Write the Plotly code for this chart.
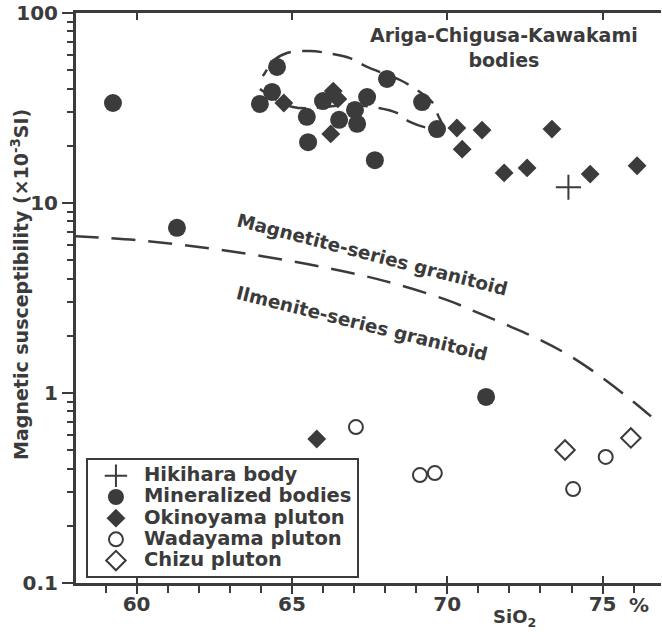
import plotly.graph_objects as go

# ---------------- data ----------------
hik_x = [73.9]
hik_y = [12.1]

min_x = [59.24, 61.3, 64.52, 64.36, 63.97, 65.48, 65.52, 66.0, 67.03, 67.1, 66.52,
         67.42, 68.06, 69.19, 69.67, 67.67, 71.25]
min_y = [33.6, 7.4, 52.0, 38.4, 33.2, 28.4, 20.9, 34.4, 30.9, 26.1, 27.4,
         36.1, 45.0, 34.0, 24.5, 16.8, 0.953]

oki_x = [64.74, 66.33, 66.48, 66.25, 70.31, 70.48, 71.12, 73.37, 71.83, 72.57, 74.6, 76.11, 65.8]
oki_y = [33.6, 38.8, 35.3, 23.1, 24.8, 19.2, 24.2, 24.5, 14.4, 15.3, 14.2, 15.7, 0.573]

wad_x = [67.06, 69.12, 69.6, 74.05, 75.1]
wad_y = [0.662, 0.370, 0.379, 0.312, 0.461]

chi_x = [73.79, 75.91]
chi_y = [0.501, 0.580]

# magnetite / ilmenite series boundary
bnd_x = [58.0, 60, 62, 64, 66, 68, 70, 71, 72, 73, 74, 75, 76, 76.7]
bnd_y = [6.7, 6.38, 5.87, 5.26, 4.60, 3.88, 3.08, 2.64, 2.25, 1.90, 1.55, 1.20, 0.897, 0.72]

# Ariga-Chigusa-Kawakami outline
acb_x = [63.97, 65.03, 66.87, 67.61, 68.38, 68.8, 69.44, 69.83, 69.7, 69.51, 69.03, 68.48,
         67.42, 66.87, 66.13, 65.58, 64.84, 64.39, 64.13, 64.06]
acb_y = [39.8, 32.0, 32.8, 32.0, 29.8, 26.7, 24.8, 25.4, 29.0, 34.0, 39.3, 44.4,
         52.0, 57.9, 61.6, 63.1, 61.6, 55.9, 48.3, 46.6]

x_major = [60, 65, 70, 75]
x_major_text = ["60", "65", "70", "75"]
y_major = [0.1, 1, 10, 100]
y_major_text = ["0.1", "1", "10", "100"]
y_minor = [m * d for d in (0.1, 1, 10) for m in range(2, 10)]

series_names = ["Hikihara body", "Mineralized bodies", "Okinoyama pluton",
                "Wadayama pluton", "Chizu pluton"]

X_RANGE = [58.05, 76.88]

C = "#3b3b3b"
FONT = "DejaVu Sans"


def lname(s):
    return '<span style="font-size:19.5px">' + s + '</span>'


fig = go.Figure()

fig.add_trace(go.Scatter(x=bnd_x, y=bnd_y, mode="lines", showlegend=False, hoverinfo="skip",
                         line=dict(color=C, width=2.5, dash="24px,13px", shape="spline")))
fig.add_trace(go.Scatter(x=acb_x, y=acb_y, mode="lines", showlegend=False, hoverinfo="skip",
                         line=dict(color=C, width=2.5, dash="20px,11px", shape="spline")))

fig.add_trace(go.Scatter(x=hik_x, y=hik_y, mode="markers", name=lname(series_names[0]),
                         marker=dict(symbol="cross-thin", size=18, line=dict(color=C, width=2), color=C)))
fig.add_trace(go.Scatter(x=min_x, y=min_y, mode="markers", name=lname(series_names[1]),
                         marker=dict(symbol="circle", size=18, color=C, line=dict(width=0))))
fig.add_trace(go.Scatter(x=oki_x, y=oki_y, mode="markers", name=lname(series_names[2]),
                         marker=dict(symbol="diamond", size=14.5, color=C, line=dict(width=0))))
fig.add_trace(go.Scatter(x=wad_x, y=wad_y, mode="markers", name=lname(series_names[3]),
                         marker=dict(symbol="circle-open", size=14, color=C, line=dict(width=2))))
fig.add_trace(go.Scatter(x=chi_x, y=chi_y, mode="markers", name=lname(series_names[4]),
                         marker=dict(symbol="diamond-open", size=15, color=C, line=dict(width=2))))

# overlay axes for inner tick parts
fig.add_trace(go.Scatter(x=[None], y=[None], xaxis="x2", showlegend=False, hoverinfo="skip"))
fig.add_trace(go.Scatter(x=[None], y=[None], xaxis="x3", showlegend=False, hoverinfo="skip"))

tickfont = dict(family=FONT, size=20, color=C, weight="bold")

fig.update_layout(
    width=662, height=632,
    margin=dict(l=76, r=1, t=13, b=49),
    paper_bgcolor="white", plot_bgcolor="white",
    font=dict(family=FONT, color=C),
    xaxis=dict(range=X_RANGE, showgrid=False, zeroline=False, showline=True, linewidth=3,
               linecolor=C, ticks="outside", ticklen=8, tickwidth=2, tickcolor=C,
               tickmode="array", tickvals=x_major, ticktext=x_major_text, tickfont=tickfont,
               ticklabelstandoff=-7,
               minor=dict(ticks="outside", ticklen=7, tickwidth=2, tickcolor=C, dtick=1, showgrid=False)),
    xaxis2=dict(range=X_RANGE, overlaying="x", side="bottom", showgrid=False, zeroline=False,
                showline=False, ticks="inside", ticklen=7, tickwidth=2, tickcolor=C,
                tickmode="array", tickvals=x_major, showticklabels=False),
    xaxis3=dict(range=X_RANGE, overlaying="x", side="top", showgrid=False, zeroline=False,
                showline=True, linewidth=3, linecolor=C, ticks="inside", ticklen=7, tickwidth=2,
                tickcolor=C, tickmode="array", tickvals=x_major, showticklabels=False),
    yaxis=dict(type="log", range=[-1, 2], showgrid=False, zeroline=False, showline=True,
               linewidth=3, linecolor=C, ticks="outside", ticklen=11, tickwidth=2, tickcolor=C,
               tickmode="array", tickvals=y_major, ticktext=y_major_text, tickfont=tickfont,
               minor=dict(ticks="outside", ticklen=6, tickwidth=2, tickcolor=C,
                          tickmode="array", tickvals=y_minor, showgrid=False)),
    legend=dict(x=0.017, y=0.219, xanchor="left", yanchor="top", bgcolor="white",
                bordercolor=C, borderwidth=2, itemwidth=46,
                font=dict(family=FONT, size=14, color=C, weight="bold"),
                tracegroupgap=0),
    showlegend=True,
)

ann_font = dict(family=FONT, size=19, color=C, weight="bold")
fig.add_annotation(text="Ariga-Chigusa-Kawakami<br>bodies", xref="paper", yref="paper",
                   x=0.7316, y=0.9395, xanchor="center", yanchor="middle",
                   showarrow=False, font=ann_font, align="center")
fig.add_annotation(text="Magnetite-series granitoid", xref="paper", yref="paper",
                   x=0.506, y=0.577, xanchor="center", yanchor="middle",
                   showarrow=False, textangle=14.5,
                   font=dict(family=FONT, size=18.5, color=C, weight="bold"))
fig.add_annotation(text="Ilmenite-series granitoid", xref="paper", yref="paper",
                   x=0.489, y=0.456, xanchor="center", yanchor="middle",
                   showarrow=False, textangle=14,
                   font=dict(family=FONT, size=18.5, color=C, weight="bold"))
fig.add_annotation(text="%", xref="x", yref="paper", x=76.17, y=-0.0386,
                   xanchor="center", yanchor="middle", showarrow=False, font=tickfont)
fig.add_annotation(text="SiO<sub>2</sub>", xref="x", yref="paper", x=72.15, y=-0.062,
                   xanchor="center", yanchor="middle", showarrow=False,
                   font=dict(family=FONT, size=18, color=C, weight="bold"))
fig.add_annotation(text="Magnetic susceptibility (×10<sup>-3</sup>SI)", xref="paper", yref="paper",
                   x=-0.0957, y=0.523, xanchor="center", yanchor="middle",
                   textangle=-90, showarrow=False,
                   font=dict(family=FONT, size=19, color=C, weight="bold"))

fig.write_html("out.html")
